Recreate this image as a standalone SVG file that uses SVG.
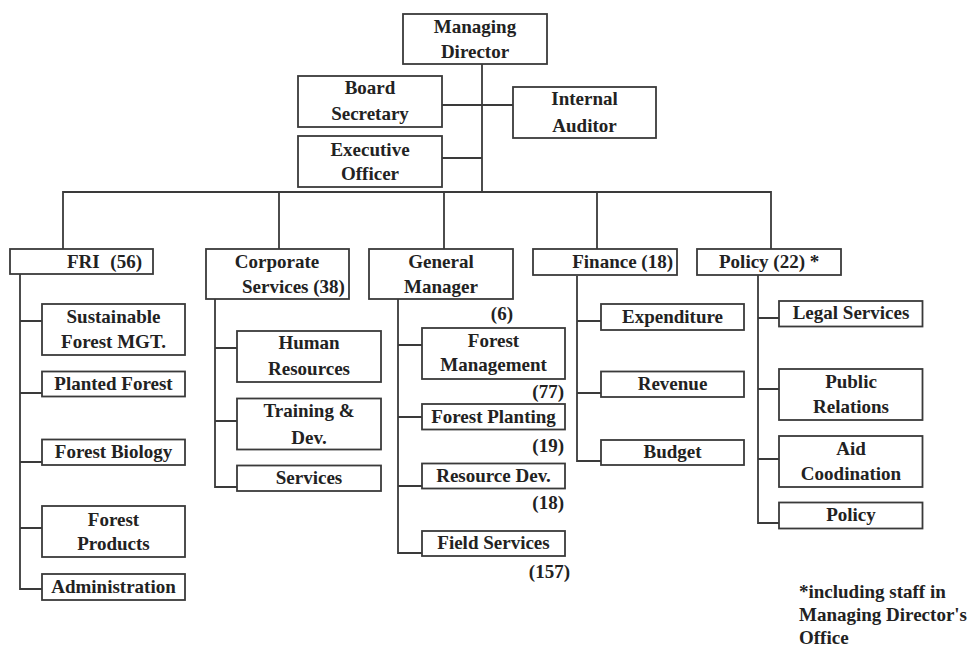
<svg xmlns="http://www.w3.org/2000/svg" width="969" height="650" viewBox="0 0 969 650">
<style>
rect{fill:#fff;stroke:#3a3a3a;stroke-width:1.8}
#connectors path{fill:none;stroke:#3a3a3a;stroke-width:1.8}
text{font-family:"Liberation Serif","Times New Roman",serif;font-weight:bold;font-size:19px;fill:#222}
.c{text-anchor:middle}
.e{text-anchor:end}
</style>
<rect x="0" y="0" width="969" height="650" style="fill:#fff;stroke:none"/>
<g id="connectors">
<path d="M482,64V192M442,105H513M442,158H482"/>
<path d="M63,249V192H771V249M279,192V249M444,192V249M597,192V249"/>
<path d="M20,274V589H42M20,321H42M20,393H42M20,462H42M20,528H42"/>
<path d="M215,299V487H237M215,348H237M215,421H237"/>
<path d="M398,299V553H422M398,345H422M398,417H422M398,486H422"/>
<path d="M577,276V461H601M577,321H601M577,393H601"/>
<path d="M758,275V523H779M758,318H779M758,389H779M758,459H779"/>
</g>
<g id="managing-director"><rect x="403" y="14" width="144" height="50"/><text class="c" x="475" y="33">Managing</text><text class="c" x="475" y="58">Director</text></g>
<g id="board-secretary"><rect x="298" y="76" width="144" height="51"/><text class="c" x="370" y="94">Board</text><text class="c" x="370" y="120">Secretary</text></g>
<g id="internal-auditor"><rect x="513" y="87" width="143" height="51"/><text class="c" x="584.5" y="105">Internal</text><text class="c" x="584.5" y="132">Auditor</text></g>
<g id="executive-officer"><rect x="298" y="136" width="144" height="51"/><text class="c" x="370" y="156">Executive</text><text class="c" x="370" y="180">Officer</text></g>
<g id="fri"><rect x="10" y="249" width="143" height="25"/><text x="67" y="268">FRI</text><text class="e" x="142" y="268">(56)</text></g>
<g id="corporate-services"><rect x="206" y="249" width="143" height="50"/><text class="c" x="277" y="268">Corporate</text><text x="242" y="293">Services (38)</text></g>
<g id="general-manager"><rect x="369" y="249" width="144" height="50"/><text class="c" x="441" y="268">General</text><text class="c" x="441" y="293">Manager</text><text class="e" x="513" y="320">(6)</text></g>
<g id="finance"><rect x="533" y="249" width="144" height="26"/><text class="e" x="673" y="268">Finance (18)</text></g>
<g id="policy-dept"><rect x="697" y="249" width="144" height="26"/><text x="719" y="268">Policy (22) *</text></g>
<g id="sustainable-forest"><rect x="42" y="304" width="143" height="51"/><text class="c" x="113.5" y="323">Sustainable</text><text class="c" x="113.5" y="348">Forest MGT.</text></g>
<g id="planted-forest"><rect x="42" y="371.5" width="143" height="25"/><text class="c" x="113.5" y="390">Planted Forest</text></g>
<g id="forest-biology"><rect x="42" y="439.5" width="143" height="25.5"/><text class="c" x="113.5" y="457.5">Forest Biology</text></g>
<g id="forest-products"><rect x="42" y="506" width="143" height="51"/><text class="c" x="113.5" y="526">Forest</text><text class="c" x="113.5" y="550">Products</text></g>
<g id="administration"><rect x="42" y="574" width="143" height="26"/><text class="c" x="113.5" y="593">Administration</text></g>
<g id="human-resources"><rect x="237" y="331" width="144" height="51"/><text class="c" x="309" y="349">Human</text><text class="c" x="309" y="375">Resources</text></g>
<g id="training-dev"><rect x="237" y="398.5" width="144" height="51"/><text class="c" x="309" y="417">Training &amp;</text><text class="c" x="309" y="443.5">Dev.</text></g>
<g id="services"><rect x="237" y="465.5" width="144" height="25.5"/><text class="c" x="309" y="484">Services</text></g>
<g id="forest-management"><rect x="422" y="328" width="143" height="51"/><text class="c" x="493.5" y="347">Forest</text><text class="c" x="493.5" y="371">Management</text><text class="e" x="564" y="397.5">(77)</text></g>
<g id="forest-planting"><rect x="422" y="404" width="143" height="25.5"/><text class="c" x="493.5" y="422.5">Forest Planting</text><text class="e" x="564" y="451.5">(19)</text></g>
<g id="resource-dev"><rect x="422" y="463.5" width="143" height="25"/><text class="c" x="493.5" y="482">Resource Dev.</text><text class="e" x="564" y="508.5">(18)</text></g>
<g id="field-services"><rect x="422" y="531" width="143" height="25"/><text class="c" x="493.5" y="549">Field Services</text><text class="e" x="570" y="577.5">(157)</text></g>
<g id="expenditure"><rect x="601" y="304" width="143" height="26"/><text class="c" x="672.5" y="323">Expenditure</text></g>
<g id="revenue"><rect x="601" y="371.5" width="143" height="25.5"/><text class="c" x="672.5" y="390">Revenue</text></g>
<g id="budget"><rect x="601" y="440" width="143" height="25"/><text class="c" x="672.5" y="457.5">Budget</text></g>
<g id="legal-services"><rect x="779" y="301" width="143.5" height="25.5"/><text class="c" x="851" y="319">Legal Services</text></g>
<g id="public-relations"><rect x="779" y="369" width="143.5" height="51"/><text class="c" x="851" y="387.5">Public</text><text class="c" x="851" y="412.5">Relations</text></g>
<g id="aid-coordination"><rect x="779" y="436" width="143.5" height="51"/><text class="c" x="851" y="455">Aid</text><text class="c" x="851" y="480">Coodination</text></g>
<g id="policy"><rect x="779" y="502.5" width="143.5" height="26"/><text class="c" x="851" y="521">Policy</text></g>
<g id="footnote"><text x="799" y="597.5">*including staff in</text><text x="799" y="620.5">Managing Director's</text><text x="799" y="644">Office</text></g>
</svg>
